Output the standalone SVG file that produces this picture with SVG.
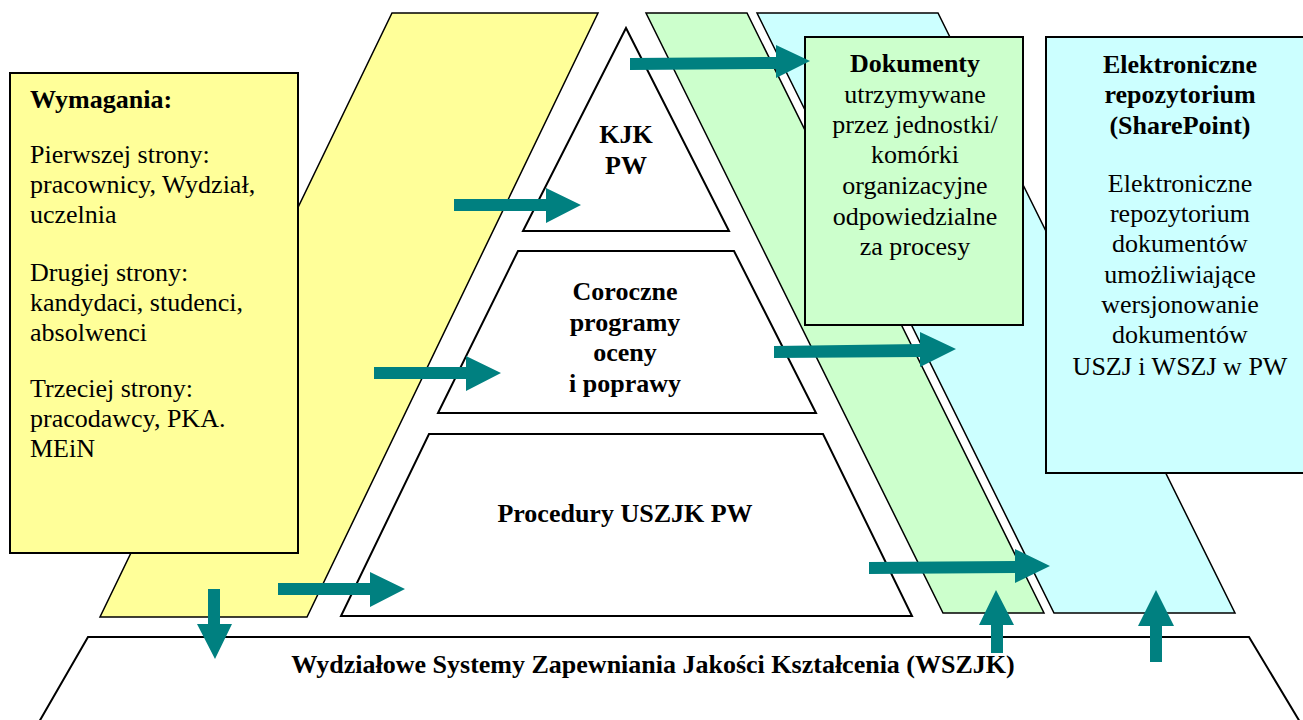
<svg xmlns="http://www.w3.org/2000/svg" width="1303" height="720" viewBox="0 0 1303 720">
<style>
.band{stroke:#000;stroke-width:1.5;stroke-linejoin:miter}
.shape{fill:#fff;stroke:#000;stroke-width:2}
.box{stroke:#000;stroke-width:2}
.arrow{fill:#008080;stroke:none}
text{font-family:'Liberation Serif','Times New Roman',Times,'DejaVu Serif',serif;font-size:26px;fill:#000}
.b{font-weight:bold}
.c{text-anchor:middle}
</style>
<rect width="1303" height="720" fill="#fff"/>
<g id="bands">
<polygon id="band-yellow" class="band" fill="#FFFF99" points="392,13 598,13 307,617 100,617"/>
<polygon id="band-green" class="band" fill="#CCFFCC" points="646,13 747,13 1044,613 943,613"/>
<polygon id="band-cyan" class="band" fill="#CCFFFF" points="757,13 938,13 1235,613 1054,613"/>
</g>
<g id="wymagania" font-family="Liberation Serif, serif">
<rect class="box" fill="#FFFF99" x="10" y="73" width="288" height="480"/>
<text class="b" x="30" y="108">Wymagania:</text>
<text x="30" y="163">Pierwszej strony:</text>
<text x="30" y="193">pracownicy, Wydział,</text>
<text x="30" y="223">uczelnia</text>
<text x="30" y="281">Drugiej strony:</text>
<text x="30" y="311">kandydaci, studenci,</text>
<text x="30" y="341">absolwenci</text>
<text x="30" y="397">Trzeciej strony:</text>
<text x="30" y="427">pracodawcy, PKA.</text>
<text x="30" y="457">MEiN</text>
</g>
<g id="kjk">
<polygon class="shape" points="626,28 729,231 523,231"/>
<text class="b c" x="626" y="143">KJK</text>
<text class="b c" x="626" y="174">PW</text>
</g>
<g id="coroczne">
<polygon class="shape" points="518,251 734,251 816,413 438,413"/>
<text class="b c" x="625" y="300">Coroczne</text>
<text class="b c" x="625" y="331">programy</text>
<text class="b c" x="625" y="361">oceny</text>
<text class="b c" x="625" y="392">i poprawy</text>
</g>
<g id="procedury">
<polygon class="shape" points="429,434 823,434 912,616 341,616"/>
<text class="b c" x="625" y="522">Procedury USZJK PW</text>
</g>
<g id="wszjk">
<polygon class="shape" points="88,637 1249,637 1300,722 39,722"/>
<text class="b c" x="653" y="673">Wydziałowe Systemy Zapewniania Jakości Kształcenia (WSZJK)</text>
</g>
<g id="dokumenty">
<rect class="box" fill="#CCFFCC" x="805" y="37" width="218" height="288"/>
<text class="b c" x="915" y="72">Dokumenty</text>
<text class="c" x="915" y="103">utrzymywane</text>
<text class="c" x="915" y="133">przez jednostki/</text>
<text class="c" x="915" y="163">komórki</text>
<text class="c" x="915" y="194">organizacyjne</text>
<text class="c" x="915" y="225">odpowiedzialne</text>
<text class="c" x="915" y="255">za procesy</text>
</g>
<g id="repozytorium">
<rect class="box" fill="#CCFFFF" x="1046" y="37" width="270" height="436"/>
<text class="b c" x="1180" y="73">Elektroniczne</text>
<text class="b c" x="1180" y="103">repozytorium</text>
<text class="b c" x="1180" y="134">(SharePoint)</text>
<text class="c" x="1180" y="192">Elektroniczne</text>
<text class="c" x="1180" y="222">repozytorium</text>
<text class="c" x="1180" y="252">dokumentów</text>
<text class="c" x="1180" y="283">umożliwiające</text>
<text class="c" x="1180" y="313">wersjonowanie</text>
<text class="c" x="1180" y="343">dokumentów</text>
<text class="c" x="1180" y="375">USZJ i WSZJ w PW</text>
</g>
<g id="connectors">
<polygon class="arrow" points="630,58 776,57 776,45 810,61 776,78 776,69 630,70"/>
<polygon class="arrow" points="454,199 546,199 546,188 581,205 546,223 546,211 454,211"/>
<polygon class="arrow" points="374,367 466,367 466,356 501,373 466,391 466,379 374,379"/>
<polygon class="arrow" points="278,583 370,583 370,572 405,589 370,607 370,595 278,595"/>
<polygon class="arrow" points="208,589 220,589 220,624 232,624 215,659 197,624 208,624"/>
<polygon class="arrow" points="774,346 920,344 920,332 956,349 920,367 920,357 774,358"/>
<polygon class="arrow" points="869,562 1015,561 1015,549 1050,566 1015,583 1015,573 869,574"/>
<polygon class="arrow" points="991,653 1003,653 1003,625 1014,625 996,590 979,625 991,625"/>
<polygon class="arrow" points="1150,662 1162,662 1162,626 1174,626 1156,590 1138,626 1150,626"/>
</g>
</svg>
